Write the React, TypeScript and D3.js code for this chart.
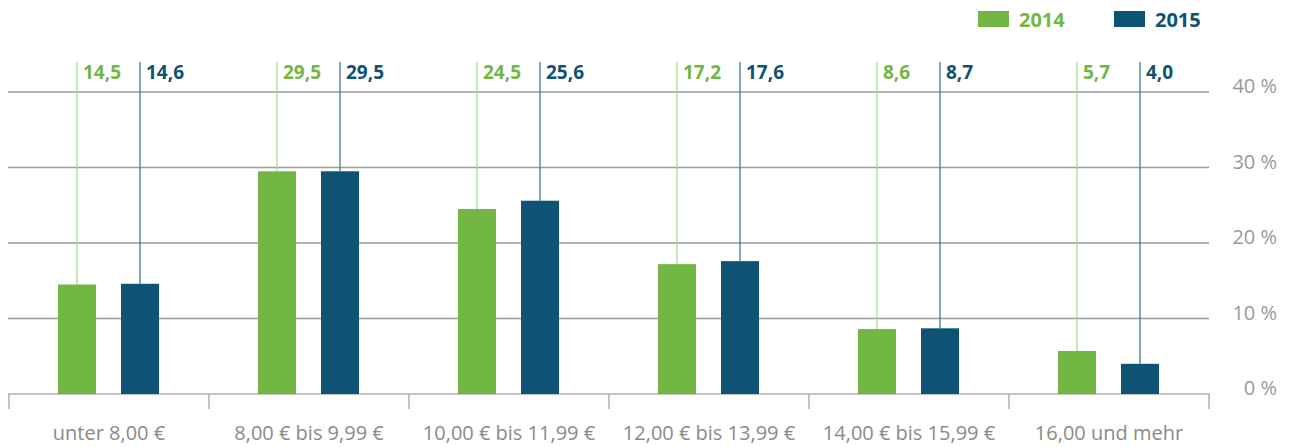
import React, { useEffect, useRef } from 'react';
import * as d3 from 'd3';

const categories = ['unter 8,00 €', '8,00 € bis 9,99 €', '10,00 € bis 11,99 €', '12,00 € bis 13,99 €', '14,00 € bis 15,99 €', '16,00 und mehr'];
const seriesNames = ['2014', '2015'];
const values2014 = [14.5, 29.5, 24.5, 17.2, 8.6, 5.7];
const values2015 = [14.6, 29.5, 25.6, 17.6, 8.7, 4.0];
const yTicks = [0, 10, 20, 30, 40];

const colors = ['#72b743', '#0e5373'];
const leaderColors = ['#addb8f', '#3f7893'];
const font = '"Open Sans", sans-serif';

export default function App() {
  const svgRef = useRef<SVGSVGElement>(null);

  useEffect(() => {
    const svg = d3.select(svgRef.current);
    svg.selectAll('*').remove();

    const x0 = d3.scaleBand().domain(categories).range([9, 1209]);
    const x1 = d3.scaleBand().domain(seriesNames).range([49, 150]).paddingInner(0.397);
    const y = d3.scaleLinear().domain([0, 40]).range([394, 92]);

    // gridlines
    svg.append('g')
      .selectAll('line')
      .data(yTicks.filter(t => t > 0))
      .join('line')
      .attr('x1', 8).attr('x2', 1209)
      .attr('y1', d => y(d)).attr('y2', d => y(d))
      .attr('stroke', '#9a9a9a').attr('stroke-width', 1.3);

    // y labels
    svg.append('g')
      .selectAll('text')
      .data(yTicks)
      .join('text')
      .attr('x', 1277).attr('y', d => y(d) + 1)
      .attr('text-anchor', 'end')
      .attr('font-family', font).attr('font-size', 20)
      .attr('fill', '#999')
      .text(d => `${d} %`);

    // x axis
    const xAxis = svg.append('g');
    xAxis.append('line')
      .attr('x1', 8).attr('x2', 1210).attr('y1', 394).attr('y2', 394)
      .attr('stroke', '#b0b0b0').attr('stroke-width', 1.5);
    const edges = categories.map(c => x0(c)!).concat([x0.range()[1]]);
    xAxis.selectAll('line.tick')
      .data(edges)
      .join('line')
      .attr('class', 'tick')
      .attr('x1', d => d).attr('x2', d => d)
      .attr('y1', 394).attr('y2', 409)
      .attr('stroke', '#b0b0b0').attr('stroke-width', 1.5);
    xAxis.selectAll('text')
      .data(categories)
      .join('text')
      .attr('x', d => x0(d)! + x0.bandwidth() / 2)
      .attr('y', 440)
      .attr('text-anchor', 'middle')
      .attr('font-family', font).attr('font-size', 20)
      .attr('fill', '#8a8a8a')
      .text(d => d);

    const seriesValues = [values2014, values2015];
    seriesNames.forEach((s, si) => {
      const g = svg.append('g');
      const data = categories.map((c, i) => ({ c, v: seriesValues[si][i] }));
      const cx = (d: { c: string }) => x0(d.c)! + x1(s)! + x1.bandwidth() / 2;

      g.selectAll('line')
        .data(data)
        .join('line')
        .attr('x1', cx).attr('x2', cx)
        .attr('y1', 62).attr('y2', d => y(d.v))
        .attr('stroke', leaderColors[si]).attr('stroke-width', 1.3);

      g.selectAll('rect')
        .data(data)
        .join('rect')
        .attr('x', d => x0(d.c)! + x1(s)!)
        .attr('y', d => y(d.v))
        .attr('width', x1.bandwidth())
        .attr('height', d => y(0) - y(d.v))
        .attr('fill', colors[si]);

      g.selectAll('text')
        .data(data)
        .join('text')
        .attr('x', d => cx(d) + 6)
        .attr('y', 79)
        .attr('font-family', font).attr('font-size', 19).attr('font-weight', 700)
        .attr('fill', colors[si])
        .text(d => d.v.toFixed(1).replace('.', ','));
    });

    // legend
    const legendX = [978, 1114];
    seriesNames.forEach((s, si) => {
      svg.append('rect')
        .attr('x', legendX[si]).attr('y', 11)
        .attr('width', 31).attr('height', 16)
        .attr('fill', colors[si]);
      svg.append('text')
        .attr('x', legendX[si] + 41).attr('y', 27)
        .attr('font-family', font).attr('font-size', 20).attr('font-weight', 700)
        .attr('fill', colors[si])
        .text(s);
    });
  }, []);

  return (
    <svg ref={svgRef} width={1291} height={447}
      style={{ position: 'absolute', left: 0, top: 0, background: '#fff' }} />
  );
}
